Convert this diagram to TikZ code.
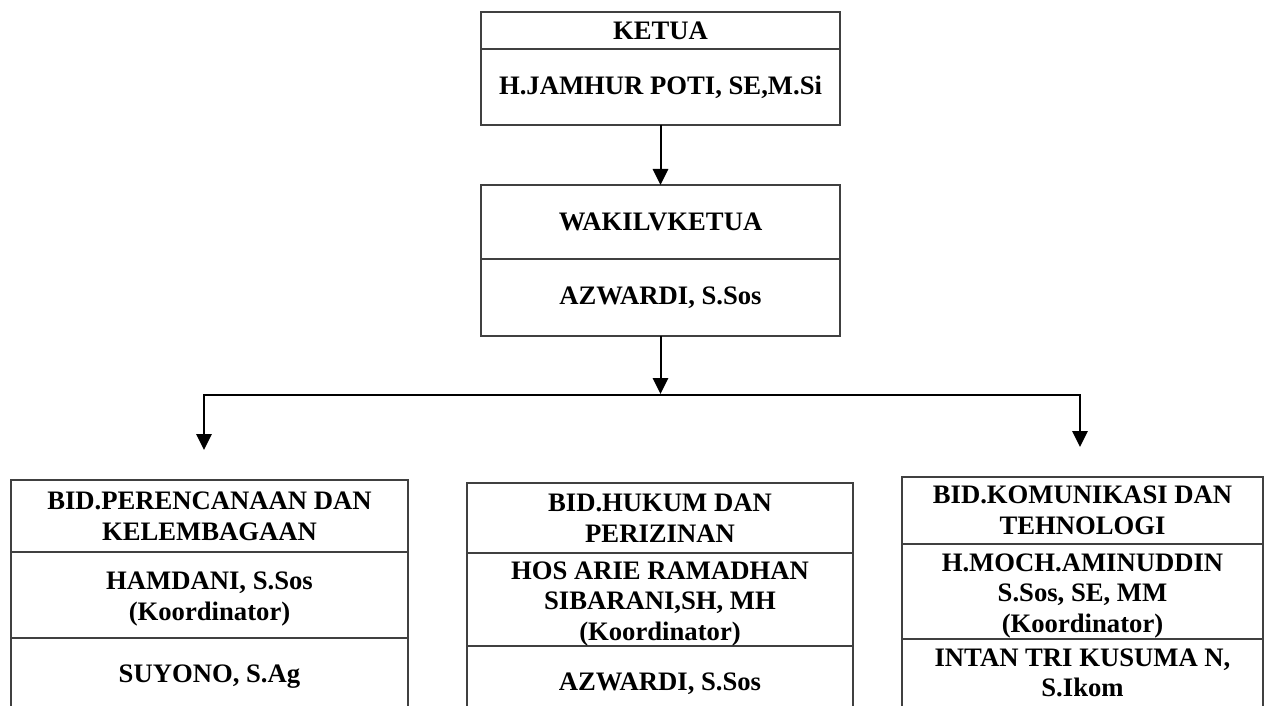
\documentclass[tikz,border=0pt]{standalone}
\usepackage{fontspec}
\setmainfont{Liberation Serif}
\usetikzlibrary{arrows.meta}
\definecolor{boxgray}{RGB}{64,64,64}
\newcommand{\lowstrut}{\rule{0pt}{19.6pt}}
\tikzset{
  sect/.style={draw=boxgray, line width=1.5pt, rectangle, inner sep=0pt, outer sep=0pt,
    align=center, font=\bfseries\fontsize{20}{23}\selectfont},
  txt/.style={inner sep=0pt, align=center, font=\bfseries\fontsize{20}{23}\selectfont},
  side/.style={draw=boxgray, line width=1.5pt},
  conn/.style={draw=black, line width=1.5pt, -{Triangle[length=12pt,width=11.5pt]}},
  bar/.style={draw=black, line width=1.5pt, {Triangle[length=12pt,width=11.5pt]}-{Triangle[length=12pt,width=11.5pt]}},
}
\begin{document}
\begin{tikzpicture}[x=0.75pt,y=-0.75pt]
\useasboundingbox (0,0) rectangle (1266,706);
\clip (0,0) rectangle (1266,706);

% KETUA
\node[sect, minimum width=359*0.75pt, minimum height=37*0.75pt, anchor=north] (ketuaT) at (660.5,12) {KETUA};
\node[sect, minimum width=359*0.75pt, minimum height=76*0.75pt, anchor=north] (ketuaN) at (ketuaT.south) {H.JAMHUR POTI, SE,M.Si};

% WAKIL
\node[sect, minimum width=359*0.75pt, minimum height=74*0.75pt, anchor=north] (wakilT) at (660.5,185) {WAKILVKETUA};
\node[sect, minimum width=359*0.75pt, minimum height=77*0.75pt, anchor=north] (wakilN) at (wakilT.south) {AZWARDI, S.Sos};

\draw[conn] (ketuaN.south) -- (wakilT.north);

\coordinate (hub) at (660.5,394);
\coordinate (barL) at (204,395);
\coordinate (barR) at (1080,395);
\coordinate (tipL) at (204,450);
\coordinate (tipR) at (1080,447);
\draw[conn] (wakilN.south) -- (hub);
\draw[bar, line join=miter] (tipL) -- (barL) -- (barR) -- (tipR);

% Left column
\node[sect, minimum width=397*0.75pt, minimum height=72*0.75pt, anchor=north] (LT) at (209.5,480) {BID.PERENCANAAN DAN\\KELEMBAGAAN};
\node[sect, minimum width=397*0.75pt, minimum height=86*0.75pt, anchor=north] (LN) at (LT.south) {\lowstrut HAMDANI, S.Sos\\(Koordinator)};
\draw[side] (LN.south west) -- ++(0,100);
\draw[side] (LN.south east) -- ++(0,100);
\node[txt, anchor=base] (LS) at (209.5,682) {SUYONO, S.Ag};

% Middle column
\node[sect, minimum width=386*0.75pt, minimum height=70*0.75pt, anchor=north] (MT) at (660,483) {BID.HUKUM DAN\\PERIZINAN};
\node[sect, minimum width=386*0.75pt, minimum height=93*0.75pt, anchor=north] (MN) at (MT.south) {\lowstrut HOS ARIE RAMADHAN\\SIBARANI,SH, MH\\(Koordinator)};
\draw[side] (MN.south west) -- ++(0,100);
\draw[side] (MN.south east) -- ++(0,100);
\node[txt, anchor=base] (MS) at (660,690) {AZWARDI, S.Sos};

% Right column
\node[sect, minimum width=361*0.75pt, minimum height=67*0.75pt, anchor=north] (RT) at (1082.5,477) {BID.KOMUNIKASI DAN\\TEHNOLOGI};
\node[sect, minimum width=361*0.75pt, minimum height=95*0.75pt, anchor=north] (RN) at (RT.south) {\lowstrut H.MOCH.AMINUDDIN\\S.Sos, SE, MM\\(Koordinator)};
\draw[side] (RN.south west) -- ++(0,100);
\draw[side] (RN.south east) -- ++(0,100);
\node[txt] (RS) at (1082.5,673) {INTAN TRI KUSUMA N,\\S.Ikom};
\end{tikzpicture}
\end{document}
